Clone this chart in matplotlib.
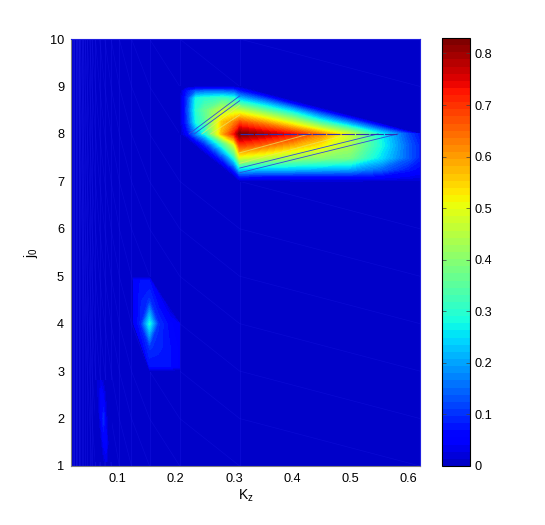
import matplotlib
matplotlib.use("Agg")
import matplotlib.pyplot as plt
from matplotlib.colors import ListedColormap
import numpy as np

plt.rcParams['font.family'] = ['Liberation Sans', 'DejaVu Sans']
plt.rcParams['font.size'] = 9.2

vmax = 0.83

# the patches follow a sheared mesh, so each table runs from a ridge row out to an edge
fractions = [0, .25, .5, .75, .9, 1]

# main peak around kz = 0.31, j0 = 8
hot_kz = [0.207, 0.22, 0.235, 0.25, 0.28, 0.30, 0.31, 0.35, 0.40, 0.45, 0.50, 0.55, 0.60, 0.62]
hot_ridge = [8] * 14
hot_top = [9, 9, 9, 9, 9, 9, 9, 8.87, 8.71, 8.55, 8.39, 8.23, 8.06, 8.0]
hot_bottom = [8, 7.87, 7.73, 7.58, 7.3, 7.1, 7, 7, 7, 7, 7, 7, 7, 7]
hot_upper = [
    [0, .06, .18, .28, .58, .72, .83, .79, .73, .62, .47, .28, .12, .07],
    [0, .11, .28, .34, .56, .62, .67, .63, .55, .45, .36, .22, .10, .06],
    [0, .12, .30, .36, .46, .46, .46, .43, .38, .29, .23, .15, .07, .05],
    [0, .11, .28, .30, .32, .30, .22, .22, .20, .15, .12, .08, .04, .03],
    [0, .08, .14, .15, .15, .13, .08, .09, .07, .06, .05, .04, .02, .01],
    [0, 0, 0, 0, 0, 0, 0, 0, 0, 0, 0, 0, 0, 0],
]
hot_lower = [
    [0, .06, .18, .28, .58, .72, .83, .79, .73, .62, .47, .28, .12, .07],
    [0, .04, .12, .18, .36, .48, .68, .64, .58, .52, .43, .29, .14, .09],
    [0, .02, .07, .10, .22, .33, .49, .46, .42, .40, .38, .26, .14, .09],
    [0, .01, .03, .05, .10, .15, .24, .22, .22, .21, .20, .15, .08, .06],
    [0, 0, .01, .02, .04, .05, .08, .07, .07, .07, .07, .06, .04, .03],
    [0, 0, 0, 0, 0, 0, 0, 0, .01, .01, .01, .01, .01, .01],
]

# blob around kz = 0.155, j0 = 4
blob_fractions = [0, .5, .9, 1]
blob_kz = [0.128, 0.14, 0.155, 0.17, 0.19, 0.207]
blob_ridge = [4] * 6
blob_top = [5, 5, 5, 4.71, 4.33, 4]
blob_bottom = [4, 3.56, 3, 3, 3, 3]
blob_upper = [
    [.04, .09, .28, .10, .06, .04],
    [.05, .08, .10, .07, .04, .03],
    [.06, .07, .07, .04, .02, .02],
    [0, 0, 0, 0, 0, 0],
]
blob_lower = [
    [.04, .09, .28, .10, .06, .04],
    [.04, .07, .10, .09, .07, .05],
    [.04, .05, .07, .07, .07, .05],
    [0, 0, 0, 0, 0, 0],
]

# thin streak near kz = 0.075
streak_kz = [0.062, 0.068, 0.072, 0.076, 0.080, 0.084, 0.090]
streak_j = [1.1, 1.5, 2.0, 2.5, 2.8]
streak_vals = [
    [0, 0, 0, .01, .03, .01, 0],
    [0, 0, .01, .05, .06, .01, 0],
    [0, .01, .05, .095, .03, 0, 0],
    [0, .02, .06, .04, .01, 0, 0],
    [0, .02, .03, .01, 0, 0, 0],
]

# thin artefact lines crossing the peak: kz pairs, j0 pairs
dark_lines = [
    ([0.31, 0.582], [7.18, 8.0]),
    ([0.31, 0.548], [7.28, 8.0]),
    ([0.223, 0.31], [8.0, 8.8]),
    ([0.232, 0.31], [8.0, 8.7]),
]
light_lines = [
    ([0.31, 0.50], [7.38, 8.0]),
    ([0.31, 0.43], [7.6, 8.0]),
    ([0.245, 0.31], [8.0, 8.6]),
    ([0.26, 0.31], [8.0, 8.4]),
]
ridge_kz = [0.31, 0.58]
ridge_j = [8.0, 8.0]

# faint mesh columns and the sheared mesh lines
mesh_kz = [0.62, 0.31, 0.207, 0.155, 0.124, 0.103, 0.089, 0.078, 0.069, 0.062, 0.056,
           0.052, 0.048, 0.044, 0.041, 0.039, 0.036, 0.034, 0.033, 0.031, 0.029, 0.028, 0.026, 0.025, 0.024]
mesh_starts = [-9, -8, -7, -6, -5, -4, -3, -2, -1, 0, 1, 2, 3, 4, 5, 6, 7, 8, 9]

jet64 = plt.get_cmap('jet', 64)
cmap = ListedColormap(jet64(np.arange(4, 64)))
levels = np.linspace(0, vmax, 61)


def sheared(ax, kz, ridge, edge, fracs, vals):
    kz2 = np.tile(kz, (len(fracs), 1))
    j2 = np.outer(1 - np.array(fracs), ridge) + np.outer(fracs, edge)
    ax.contourf(kz2, j2, np.array(vals), levels=levels, cmap=cmap, vmin=0, vmax=vmax,
                antialiased=False, zorder=2, extend='neither')


fig = plt.figure(figsize=(5.45, 5.25), dpi=100, facecolor='white')
ax = fig.add_axes([71 / 545, 1 - 466 / 525, 349 / 545, 427 / 525])
ax.set_facecolor(cmap(0))

for k in mesh_kz[1:]:
    ax.axvline(k, color='#1a1ae6', lw=0.6, alpha=0.4, zorder=1)
for c in mesh_starts:
    ax.plot(mesh_kz, [c + i for i in range(len(mesh_kz))], color='#1a1ae6', lw=0.5, alpha=0.35, zorder=1)

sheared(ax, hot_kz, hot_ridge, hot_top, fractions, hot_upper)
sheared(ax, hot_kz, hot_ridge, hot_bottom, fractions, hot_lower)
sheared(ax, blob_kz, blob_ridge, blob_top, blob_fractions, blob_upper)
sheared(ax, blob_kz, blob_ridge, blob_bottom, blob_fractions, blob_lower)
ax.contourf(streak_kz, streak_j, np.array(streak_vals), levels=levels, cmap=cmap, vmin=0, vmax=vmax,
            antialiased=False, zorder=2)

for xs, ys in dark_lines:
    ax.plot(xs, ys, color='#3048e0', lw=0.6, zorder=3)
for xs, ys in light_lines:
    ax.plot(xs, ys, color='#e8e860', lw=0.7, alpha=0.7, zorder=3)
ax.plot(ridge_kz, ridge_j, color='#3030b0', lw=0.8, dashes=(12, 1), zorder=3)

ax.set_xlim(0.02, 0.62)
ax.set_ylim(1, 10)
ax.set_xticks([0.1, 0.2, 0.3, 0.4, 0.5, 0.6])
ax.set_xticklabels(['0.1', '0.2', '0.3', '0.4', '0.5', '0.6'])
ax.set_yticks(range(1, 11))
ax.tick_params(length=0, pad=5)
ax.set_xlabel('K$_{\\mathregular{z}}$', labelpad=2, fontsize=10)
ax.set_ylabel('j$_{\\mathregular{0}}$', labelpad=7, fontsize=10)
for name, sp in ax.spines.items():
    sp.set_color('#808080' if name in ('left', 'bottom') else '#2020e0')
    sp.set_linewidth(0.8)

cax = fig.add_axes([442 / 545, 1 - 466 / 525, 28 / 545, 428 / 525])
sm = plt.cm.ScalarMappable(norm=plt.Normalize(0, vmax), cmap=cmap)
cb = fig.colorbar(sm, cax=cax, ticks=[0, .1, .2, .3, .4, .5, .6, .7, .8])
cb.ax.set_yticklabels(['0', '0.1', '0.2', '0.3', '0.4', '0.5', '0.6', '0.7', '0.8'])
cb.ax.tick_params(direction='in', left=True, right=True, length=3, width=0.5, color='#404040', pad=3)
cb.outline.set_linewidth(0.8)

fig.savefig('out.png', dpi=100)
